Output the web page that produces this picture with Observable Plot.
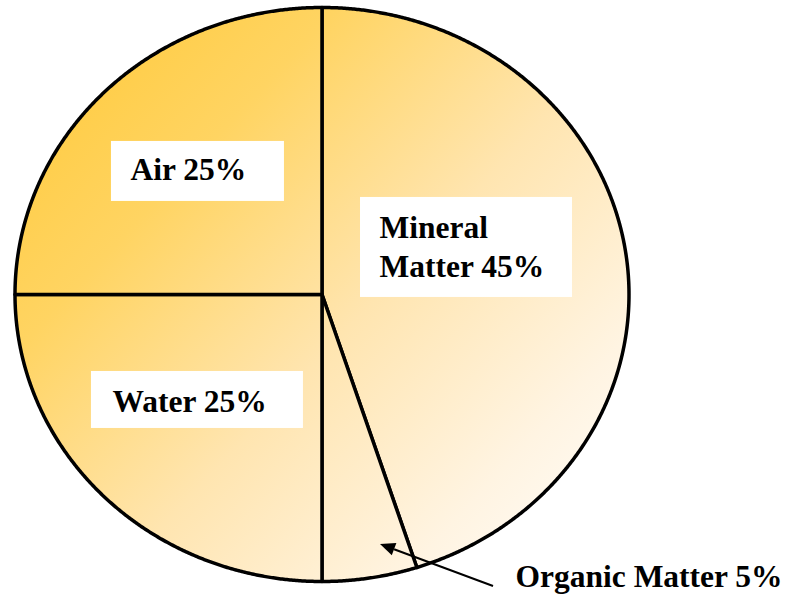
<!DOCTYPE html>
<html><head><meta charset="utf-8">
<script src="https://cdn.jsdelivr.net/npm/d3@7"></script>
<script src="https://cdn.jsdelivr.net/npm/@observablehq/plot@0.6"></script>
<style>html,body{margin:0;padding:0;background:#fff}svg{display:block}</style>
</head><body><div id="chart"></div>
<script>
// ---- data ----
const categories = ["Mineral Matter", "Organic Matter", "Water", "Air"];
const shares = [45, 5, 25, 25];
const labelLines = [["Mineral", "Matter 45%"], ["Organic Matter 5%"], ["Water 25%"], ["Air 25%"]];

// ---- layout (pixels / scale units, not data) ----
const W = 790, H = 596;
const cx = 321.5, cy = 294, rx = 307, ry = 287;
const labelLayout = [
  {r: 0.5, box: [-113.1, -74.6, 212, 100], tx: -94.1, ty: [-33.6, 5.4]},
  {r: 1.0, box: null, tx: 145.5, ty: [9.5], arrow: {tail: [123.5, 8.5], tip: [10.5, -33.5]}},
  {r: 0.6, box: [-100.3, -44.8, 212, 57], tx: -79.3, ty: [-3.8]},
  {r: 0.6, box: [-80.3, -31.3, 173, 60], tx: -61.3, ty: [7.7]}
];

const arcs = d3.pie().sort(null).value(d => d.value)(
  categories.map((c, i) => ({category: c, value: shares[i]}))
);

// slice outlines (unit-circle coordinates, drawn through the x/y scales)
const slicePts = [];
arcs.forEach(a => {
  const n = Math.max(4, Math.ceil((a.endAngle - a.startAngle) / 0.005));
  slicePts.push({category: a.data.category, x: 0, y: 0});
  for (let k = 0; k <= n; k++) {
    const t = a.startAngle + (a.endAngle - a.startAngle) * k / n;
    slicePts.push({category: a.data.category, x: Math.sin(t), y: Math.cos(t)});
  }
  slicePts.push({category: a.data.category, x: 0, y: 0});
});

// label anchors on each slice's mid-angle
const anchors = arcs.map((a, i) => {
  const m = (a.startAngle + a.endAngle) / 2, r = labelLayout[i].r;
  return {i, x: r * Math.sin(m), y: r * Math.cos(m)};
});
// text rows: pixel offsets converted to scale units (linear scales: rx px per unit in x, ry in y)
const textRows = [];
anchors.forEach(an => {
  const L = labelLayout[an.i];
  labelLines[an.i].forEach((line, j) =>
    textRows.push({x: an.x + L.tx / rx, y: an.y - L.ty[j] / ry, text: line}));
});

const gradient = () => {
  const defs = d3.create("svg:defs");
  const g = defs.append("linearGradient").attr("id", "soilGrad")
    .attr("gradientUnits", "userSpaceOnUse")
    .attr("x1", cx - rx).attr("y1", cy - ry).attr("x2", cx + rx).attr("y2", cy + ry);
  [[0, "#FFC834"], [0.28, "#FFD462"], [0.55, "#FFE5B0"], [0.8, "#FFF4E2"], [1, "#FFFFFF"]]
    .forEach(([o, c]) => g.append("stop").attr("offset", o).attr("stop-color", c));
  return defs.node();
};

const boxesAndArrow = (index, scales) => {
  const g = d3.create("svg:g");
  anchors.forEach(an => {
    const L = labelLayout[an.i];
    const px = scales.x(an.x), py = scales.y(an.y);
    if (L.box) {
      g.append("rect").attr("x", px + L.box[0]).attr("y", py + L.box[1])
        .attr("width", L.box[2]).attr("height", L.box[3]).attr("fill", "#fff");
    }
    if (L.arrow) {
      const [x1, y1] = [px + L.arrow.tail[0], py + L.arrow.tail[1]];
      const [x2, y2] = [px + L.arrow.tip[0], py + L.arrow.tip[1]];
      const ang = Math.atan2(y2 - y1, x2 - x1), hl = 15, hw = 6.5;
      const bx = x2 - hl * Math.cos(ang), by = y2 - hl * Math.sin(ang);
      g.append("line").attr("x1", x1).attr("y1", y1).attr("x2", bx).attr("y2", by)
        .attr("stroke", "#000").attr("stroke-width", 2);
      g.append("path").attr("d", `M${x2},${y2}L${bx - hw * Math.sin(ang)},${by + hw * Math.cos(ang)}L${bx + hw * Math.sin(ang)},${by - hw * Math.cos(ang)}Z`)
        .attr("fill", "#000");
    }
  });
  return g.node();
};

const chart = Plot.plot({
  width: W, height: H, margin: 0,
  style: {background: "#fff", overflow: "visible"},
  x: {domain: [-1, 1], range: [cx - rx, cx + rx], axis: null},
  y: {domain: [-1, 1], range: [cy + ry, cy - ry], axis: null},
  marks: [
    gradient,
    Plot.line(slicePts, {x: "x", y: "y", z: "category", fill: "url(#soilGrad)", stroke: "#000", strokeWidth: 3.5, strokeLinejoin: "round"}),
    boxesAndArrow,
    Plot.text(textRows, {x: "x", y: "y", text: "text", textAnchor: "start", lineAnchor: "bottom",
      fontFamily: "Liberation Serif", fontWeight: "bold", fontSize: 31.5, fill: "#000"})
  ]
});
document.getElementById("chart").appendChild(chart);
</script>
</body></html>
